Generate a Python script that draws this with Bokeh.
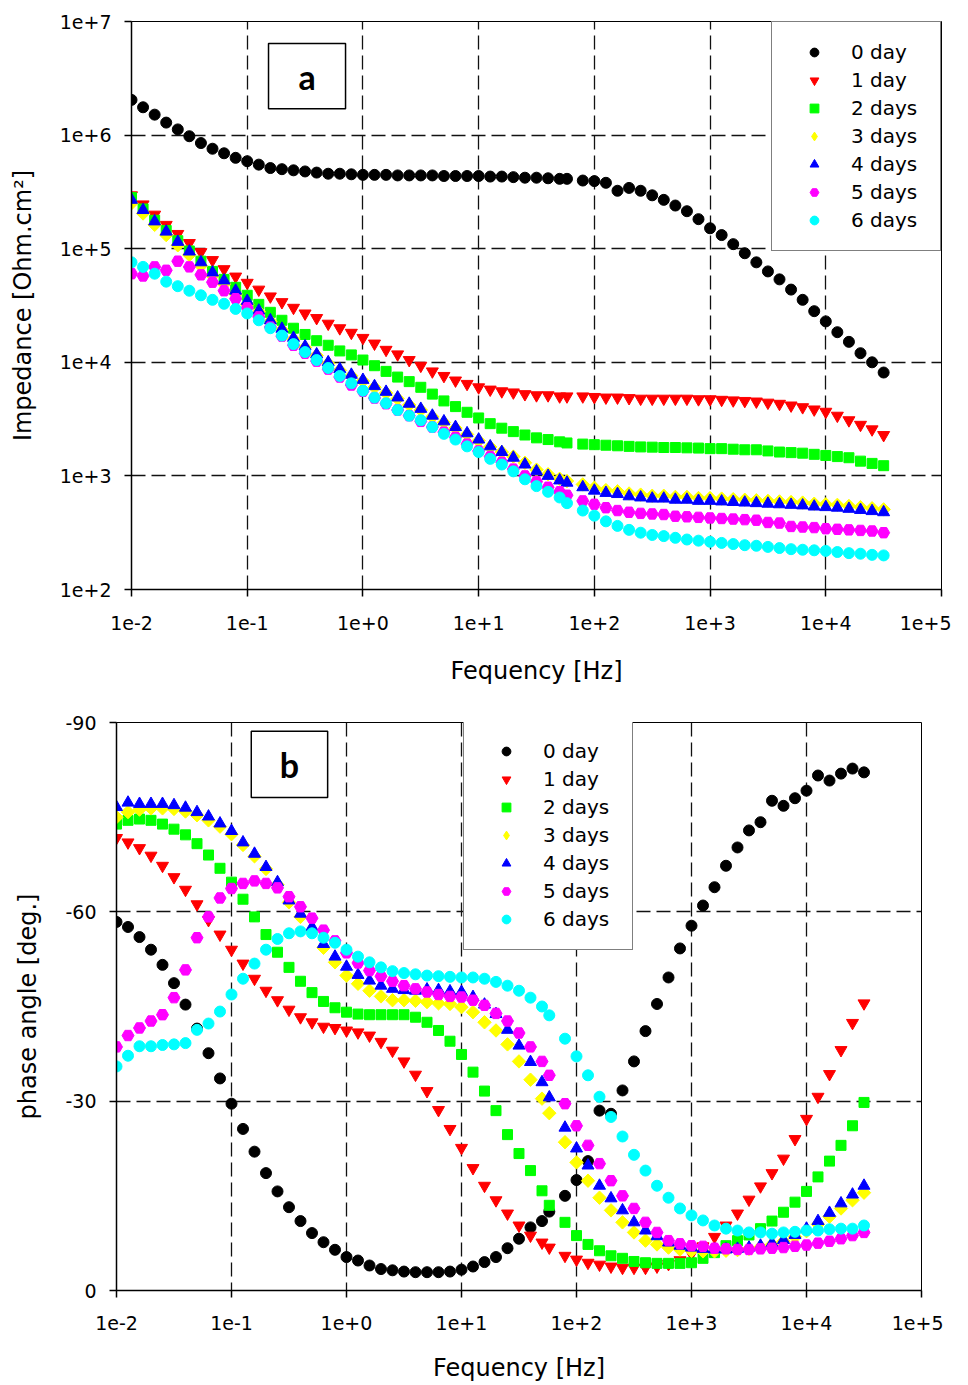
from bokeh.plotting import figure
from bokeh.layouts import column
from bokeh.models import (Range1d, FixedTicker, CustomJSTickFormatter, Legend,
                          LegendItem, BoxAnnotation, Label)
from bokeh.embed import file_html
from bokeh.resources import INLINE

# ---------------- data ----------------
FREQ = [0.01, 0.01259, 0.01585, 0.01995, 0.02512, 0.03162, 0.03981, 0.05012, 0.0631, 0.07943,
        0.1, 0.1259, 0.1585, 0.1995, 0.2512, 0.3162, 0.3981, 0.5012, 0.631, 0.7943,
        1.0, 1.259, 1.585, 1.995, 2.512, 3.162, 3.981, 5.012, 6.31, 7.943,
        10.0, 12.59, 15.85, 19.95, 25.12, 31.62, 39.81, 50.12, 58.0, 79.43,
        100.0, 125.9, 158.5, 199.5, 251.2, 316.2, 398.1, 501.2, 631.0, 794.3,
        1000.0, 1259.0, 1585.0, 1995.0, 2512.0, 3162.0, 3981.0, 5012.0, 6310.0, 7943.0,
        10000.0, 12589.0, 15849.0, 19953.0, 25119.0, 31623.0]

SERIES = ["0 day", "1 day", "2 days", "3 days", "4 days", "5 days", "6 days"]

# log10 of impedance modulus [Ohm.cm2]
LOGZ_0DAY = [6.31, 6.245, 6.18, 6.11, 6.05, 5.99, 5.93, 5.88, 5.84, 5.80,
             5.77, 5.74, 5.71, 5.70, 5.69, 5.68, 5.67, 5.66, 5.66, 5.655,
             5.65, 5.65, 5.65, 5.645, 5.645, 5.645, 5.645, 5.64, 5.64, 5.64,
             5.64, 5.635, 5.635, 5.63, 5.625, 5.625, 5.62, 5.615, 5.615, 5.60,
             5.595, 5.58, 5.51, 5.535, 5.51, 5.47, 5.43, 5.38, 5.33, 5.26,
             5.18, 5.12, 5.04, 4.96, 4.88, 4.80, 4.73, 4.64, 4.55, 4.45,
             4.36, 4.265, 4.18, 4.08, 4.00, 3.91]
LOGZ_1DAY = [5.47, 5.39, 5.30, 5.21, 5.13, 5.05, 4.97, 4.90, 4.82, 4.755,
             4.70, 4.64, 4.58, 4.53, 4.48, 4.43, 4.39, 4.34, 4.30, 4.26,
             4.215, 4.165, 4.11, 4.07, 4.02, 3.97, 3.92, 3.88, 3.84, 3.81,
             3.78, 3.76, 3.745, 3.735, 3.72, 3.71, 3.71, 3.70, 3.70, 3.70,
             3.695, 3.69, 3.69, 3.685, 3.68, 3.68, 3.68, 3.68, 3.68, 3.675,
             3.675, 3.67, 3.665, 3.66, 3.655, 3.645, 3.635, 3.62, 3.605, 3.585,
             3.565, 3.53, 3.49, 3.45, 3.41, 3.36]
LOGZ_2DAYS = [5.45, 5.35, 5.25, 5.16, 5.07, 4.98, 4.89, 4.80, 4.73, 4.66,
              4.59, 4.51, 4.44, 4.37, 4.30, 4.245, 4.19, 4.15, 4.10, 4.065,
              4.02, 3.97, 3.92, 3.87, 3.83, 3.78, 3.72, 3.66, 3.61, 3.56,
              3.51, 3.46, 3.42, 3.39, 3.36, 3.335, 3.32, 3.30, 3.29, 3.28,
              3.275, 3.27, 3.265, 3.26, 3.255, 3.253, 3.25, 3.25, 3.247, 3.245,
              3.24, 3.24, 3.235, 3.23, 3.23, 3.22, 3.21, 3.205, 3.20, 3.19,
              3.18, 3.17, 3.16, 3.13, 3.11, 3.09]
LOGZ_3DAYS = [5.40, 5.31, 5.21, 5.12, 5.03, 4.945, 4.85, 4.76, 4.69, 4.60,
              4.51, 4.445, 4.36, 4.285, 4.205, 4.13, 4.06, 3.99, 3.93, 3.88,
              3.835, 3.78, 3.73, 3.68, 3.625, 3.58, 3.52, 3.47, 3.42, 3.365,
              3.31, 3.255, 3.21, 3.17, 3.115, 3.055, 3.015, 2.975, 2.955, 2.925,
              2.895, 2.875, 2.865, 2.845, 2.835, 2.825, 2.825, 2.815, 2.815, 2.805,
              2.805, 2.80, 2.795, 2.79, 2.785, 2.78, 2.775, 2.77, 2.765, 2.755,
              2.75, 2.745, 2.735, 2.725, 2.715, 2.705]
LOGZ_4DAYS = [5.43, 5.34, 5.24, 5.15, 5.06, 4.975, 4.88, 4.79, 4.72, 4.63,
              4.54, 4.455, 4.37, 4.295, 4.215, 4.14, 4.07, 4.00, 3.94, 3.89,
              3.845, 3.79, 3.74, 3.69, 3.635, 3.59, 3.53, 3.48, 3.43, 3.375,
              3.32, 3.26, 3.21, 3.16, 3.10, 3.04, 3.00, 2.96, 2.94, 2.90,
              2.87, 2.85, 2.84, 2.82, 2.81, 2.80, 2.80, 2.79, 2.79, 2.78,
              2.78, 2.775, 2.77, 2.765, 2.76, 2.755, 2.75, 2.745, 2.74, 2.73,
              2.725, 2.72, 2.71, 2.70, 2.69, 2.68]
LOGZ_5DAYS = [4.78, 4.76, 4.84, 4.81, 4.89, 4.84, 4.77, 4.705, 4.63, 4.56,
              4.48, 4.40, 4.31, 4.23, 4.15, 4.08, 4.01, 3.94, 3.87, 3.80,
              3.745, 3.685, 3.635, 3.58, 3.53, 3.48, 3.43, 3.385, 3.34, 3.28,
              3.22, 3.17, 3.12, 3.06, 3.00, 2.95, 2.90, 2.86, 2.83, 2.78,
              2.75, 2.72, 2.695, 2.68, 2.67, 2.665, 2.66, 2.645, 2.64, 2.635,
              2.63, 2.625, 2.62, 2.615, 2.61, 2.59, 2.585, 2.555, 2.55, 2.545,
              2.535, 2.53, 2.525, 2.52, 2.515, 2.50]
LOGZ_6DAYS = [4.88, 4.84, 4.78, 4.71, 4.67, 4.63, 4.59, 4.55, 4.515, 4.47,
              4.43, 4.37, 4.30, 4.235, 4.16, 4.09, 4.02, 3.95, 3.88, 3.815,
              3.75, 3.69, 3.64, 3.58, 3.53, 3.49, 3.43, 3.37, 3.32, 3.26,
              3.21, 3.15, 3.10, 3.04, 2.97, 2.91, 2.86, 2.81, 2.76, 2.695,
              2.65, 2.60, 2.56, 2.525, 2.50, 2.48, 2.47, 2.455, 2.44, 2.43,
              2.42, 2.41, 2.40, 2.39, 2.385, 2.375, 2.365, 2.355, 2.35, 2.345,
              2.34, 2.33, 2.32, 2.315, 2.305, 2.30]

# phase angle [deg.]
PHASE_0DAY = [-58.4, -57.6, -56.0, -54.0, -51.6, -48.7, -45.3, -41.5, -37.6, -33.6,
              -29.6, -25.6, -22.0, -18.6, -15.7, -13.2, -11.0, -9.1, -7.65, -6.45,
              -5.3, -4.75, -3.96, -3.4, -3.2, -3.0, -2.9, -2.9, -2.9, -3.0,
              -3.3, -3.8, -4.5, -5.3, -6.7, -8.2, -10.0, -11.0, -12.5, -15.0,
              -17.5, -20.5, -28.5, -28.0, -31.7, -36.3, -41.1, -45.4, -49.6, -54.2,
              -57.8, -61.0, -63.9, -67.3, -70.2, -72.9, -74.2, -77.6, -76.8, -78.0,
              -79.2, -81.6, -80.8, -81.9, -82.7, -82.1]
PHASE_1DAY = [-71.7, -71.0, -70.1, -68.9, -67.3, -65.5, -63.5, -61.2, -58.7, -56.4,
              -54.0, -51.8, -49.4, -47.5, -46.0, -44.5, -43.3, -42.5, -41.8, -41.6,
              -41.2, -40.9, -40.4, -39.4, -38.0, -36.3, -34.2, -31.6, -28.6, -25.6,
              -22.6, -19.4, -16.6, -14.3, -12.2, -10.3, -8.7, -7.6, -6.8, -5.5,
              -4.9, -4.4, -4.1, -3.8, -3.6, -3.6, -3.6, -3.8, -4.2, -4.8,
              -5.8, -7.0, -8.5, -10.3, -12.2, -14.4, -16.5, -18.6, -20.9, -24.0,
              -27.2, -30.7, -34.3, -38.1, -42.4, -45.5]
PHASE_2DAYS = [-73.9, -74.5, -74.7, -74.5, -73.9, -73.1, -72.2, -70.8, -69.0, -66.9,
               -64.7, -62.0, -59.2, -56.4, -53.6, -51.2, -49.0, -47.2, -45.8, -44.8,
               -44.1, -43.8, -43.7, -43.7, -43.7, -43.7, -43.3, -42.5, -41.2, -39.5,
               -37.4, -34.6, -31.6, -28.5, -24.7, -21.7, -19.0, -15.8, -13.5, -10.8,
               -8.7, -7.3, -6.3, -5.5, -5.1, -4.6, -4.4, -4.3, -4.3, -4.3,
               -4.4, -5.1, -6.0, -7.1, -7.9, -8.8, -9.8, -11.0, -12.4, -14.0,
               -15.7, -18.0, -20.5, -23.0, -26.1, -29.8]
PHASE_3DAYS = [-75.0, -75.8, -76.2, -76.4, -76.4, -76.3, -75.9, -75.3, -74.5, -73.5,
               -72.3, -70.6, -68.8, -66.8, -64.3, -61.5, -59.2, -57.0, -54.3, -52.0,
               -49.9, -48.6, -47.5, -46.6, -46.0, -46.0, -45.9, -45.7, -45.5, -45.4,
               -44.9, -44.1, -42.5, -41.2, -39.0, -36.3, -33.4, -30.4, -28.1, -23.5,
               -20.3, -17.4, -14.7, -12.7, -10.8, -9.2, -7.9, -7.3, -6.8, -6.5,
               -6.3, -6.2, -6.2, -6.3, -6.4, -6.6, -6.9, -7.3, -7.8, -8.5,
               -9.4, -10.5, -11.7, -13.0, -14.3, -15.5]
PHASE_4DAYS = [-76.6, -77.3, -77.1, -77.1, -77.1, -76.9, -76.5, -75.8, -75.1, -74.0,
               -72.8, -71.0, -69.2, -67.1, -64.7, -61.8, -59.7, -57.6, -54.9, -52.9,
               -51.3, -50.0, -49.1, -48.3, -47.8, -47.6, -47.5, -47.7, -47.6, -47.4,
               -47.3, -46.5, -45.3, -43.8, -41.3, -38.8, -36.2, -33.0, -30.6, -25.8,
               -22.5, -19.8, -16.6, -14.6, -12.7, -10.8, -9.5, -8.6, -7.6, -7.1,
               -6.8, -6.6, -6.5, -6.5, -6.6, -6.8, -7.1, -7.5, -8.0, -8.8,
               -9.8, -11.0, -12.3, -13.8, -15.2, -16.6]
PHASE_5DAYS = [-38.6, -40.4, -41.6, -42.7, -43.7, -46.4, -50.8, -55.9, -59.2, -62.2,
               -63.7, -64.5, -64.9, -64.5, -63.8, -62.4, -60.8, -59.0, -57.1, -55.4,
               -53.5, -51.9, -50.7, -49.8, -49.0, -48.3, -47.8, -47.3, -46.9, -46.6,
               -46.5, -46.0, -45.2, -43.9, -42.7, -40.8, -38.6, -36.3, -34.1, -29.6,
               -26.1, -23.0, -20.1, -17.4, -15.0, -13.0, -10.8, -9.2, -7.9, -7.4,
               -7.1, -7.0, -6.7, -6.6, -6.5, -6.5, -6.6, -6.7, -6.8, -7.0,
               -7.2, -7.5, -7.8, -8.2, -8.7, -9.2]
PHASE_6DAYS = [-35.5, -37.2, -38.7, -38.7, -38.9, -39.0, -39.2, -41.3, -42.3, -44.2,
               -46.9, -49.4, -51.8, -54.0, -55.7, -56.6, -56.9, -56.6, -55.9, -55.1,
               -54.0, -52.9, -52.0, -51.2, -50.6, -50.3, -50.1, -49.9, -49.8, -49.7,
               -49.6, -49.6, -49.4, -48.9, -48.3, -47.5, -46.4, -45.0, -43.6, -39.9,
               -37.1, -34.1, -30.7, -27.5, -24.4, -21.5, -19.0, -16.6, -14.7, -13.0,
               -11.9, -11.1, -10.3, -9.8, -9.5, -9.2, -9.2, -9.0, -9.2, -9.3,
               -9.5, -9.5, -9.7, -9.8, -9.8, -10.3]

X_TICKS = [1e-2, 1e-1, 1e0, 1e1, 1e2, 1e3, 1e4, 1e5]
Z_TICKS = [1e2, 1e3, 1e4, 1e5, 1e6, 1e7]
PHASE_TICKS = [-90, -60, -30, 0]

LOGZ = [LOGZ_0DAY, LOGZ_1DAY, LOGZ_2DAYS, LOGZ_3DAYS, LOGZ_4DAYS, LOGZ_5DAYS, LOGZ_6DAYS]
PHASE = [PHASE_0DAY, PHASE_1DAY, PHASE_2DAYS, PHASE_3DAYS, PHASE_4DAYS, PHASE_5DAYS, PHASE_6DAYS]

# ---------------- styles ----------------
FONT = "DejaVu Sans"
MARKERS = ["circle", "inverted_triangle", "square", "square", "triangle", "hex", "circle"]
LEGEND_MARKERS = ["circle", "inverted_triangle", "square", "diamond", "triangle", "hex", "circle"]
ANGLES = [0, 0, 0, 0.785398, 0, 0, 0]
COLORS = ["#000000", "#ff0000", "#00ff00", "#ffff00", "#0000ff", "#ff00ff", "#00ffff"]
SIZES = [11, 12, 10, 9.5, 12, 12, 11]
NAN = float("nan")

exp_fmt = CustomJSTickFormatter(code="""
const e = Math.round(Math.log10(tick));
return "1e" + (e < 0 ? "-" : "+") + Math.abs(e);
""")
int_fmt = CustomJSTickFormatter(code="return tick.toFixed(0);")


def style_axis(ax, label, label_standoff, tick_standoff):
    ax.axis_label = label
    ax.axis_label_text_font = FONT
    ax.axis_label_text_font_size = "24px"
    ax.axis_label_text_font_style = "normal"
    ax.axis_label_text_color = "black"
    ax.axis_label_standoff = label_standoff
    ax.major_label_text_font = FONT
    ax.major_label_text_font_size = "19px"
    ax.major_label_text_color = "black"
    ax.major_label_standoff = tick_standoff
    ax.major_tick_out = 7
    ax.major_tick_in = 0
    ax.minor_tick_line_color = None
    ax.axis_line_color = "black"
    ax.axis_line_width = 1.5
    ax.major_tick_line_color = "black"
    ax.major_tick_line_width = 1.5


def style_grid(g):
    g.grid_line_color = "#111111"
    g.grid_line_dash = "14 6"
    g.grid_line_width = 1.3


def add_series(p, ys_list):
    legend_items = []
    for s, ys, mk, lmk, ang, c, sz in zip(SERIES, ys_list, MARKERS, LEGEND_MARKERS,
                                          ANGLES, COLORS, SIZES):
        r = p.scatter(FREQ, ys, marker=mk, angle=ang, size=sz, fill_color=c, line_color=c)
        if lmk != mk:
            # legend swatch only (legend swatches are never rotated); holds no visible point
            r = p.scatter([NAN], [NAN], marker=lmk, size=sz, fill_color=c, line_color=c)
        legend_items.append(LegendItem(label=s, renderers=[r]))
    return legend_items


def make_legend(items, location):
    return Legend(items=items, location=location, margin=0, padding=16, spacing=0,
                  glyph_width=52, glyph_height=22, label_height=28, label_width=73,
                  label_standoff=11, label_text_font=FONT, label_text_font_size="20px",
                  label_text_color="black", border_line_color="black", border_line_width=1,
                  background_fill_color="white", background_fill_alpha=1.0)


# ---------------- panel a ----------------
p1 = figure(x_axis_type="log", y_axis_type="log",
            x_range=Range1d(1e-2, 1e5), y_range=Range1d(1e2, 1e7),
            frame_width=810, frame_height=568,
            min_border_left=131, min_border_right=10, min_border_top=21, min_border_bottom=101,
            output_backend="svg", toolbar_location=None)
p1.outline_line_color = "black"
p1.outline_line_width = 1
p1.xaxis.ticker = FixedTicker(ticks=X_TICKS)
p1.yaxis.ticker = FixedTicker(ticks=Z_TICKS)
p1.xaxis.formatter = exp_fmt
p1.yaxis.formatter = exp_fmt
p1.xgrid.ticker = FixedTicker(ticks=X_TICKS)
p1.ygrid.ticker = FixedTicker(ticks=Z_TICKS)
style_axis(p1.xaxis[0], "Fequency [Hz]", 24, 19)
style_axis(p1.yaxis[0], "Impedance [Ohm.cm²]", 20, 13)
style_grid(p1.xgrid[0])
style_grid(p1.ygrid[0])

z_list = [[10 ** v for v in logz] for logz in LOGZ]
p1.add_layout(make_legend(add_series(p1, z_list), "top_right"))

p1.add_layout(BoxAnnotation(left=0.1528, right=0.7075, bottom=1.71e6, top=6.40e6,
                            fill_color="white", fill_alpha=1.0, line_color="black",
                            line_alpha=1.0, line_width=1.5))
p1.add_layout(Label(x=0.3288, y=3.31e6, text="a", text_align="center", text_baseline="middle",
                    text_font="Lato", text_font_style="bold", text_font_size="34px",
                    text_color="black"))

# ---------------- panel b ----------------
p2 = figure(x_axis_type="log",
            x_range=Range1d(1e-2, 1e5), y_range=Range1d(0, -90),
            frame_width=812, frame_height=568,
            min_border_left=131, min_border_right=15, min_border_top=32, min_border_bottom=95,
            output_backend="svg", toolbar_location=None)
p2.margin = (0, 0, 0, -15)   # panel b's frame starts 15px further left than panel a's
p2.outline_line_color = "black"
p2.outline_line_width = 1
p2.xaxis.ticker = FixedTicker(ticks=X_TICKS)
p2.yaxis.ticker = FixedTicker(ticks=PHASE_TICKS)
p2.xaxis.formatter = exp_fmt
p2.yaxis.formatter = int_fmt
p2.xgrid.ticker = FixedTicker(ticks=X_TICKS)
p2.ygrid.ticker = FixedTicker(ticks=PHASE_TICKS)
style_axis(p2.xaxis[0], "Fequency [Hz]", 21, 18)
style_axis(p2.yaxis[0], "phase angle [deg.]", 20, 13)
style_grid(p2.xgrid[0])
style_grid(p2.ygrid[0])

p2.add_layout(make_legend(add_series(p2, PHASE), (347, 340)))

p2.add_layout(BoxAnnotation(left=0.1486, right=0.6855, bottom=-78.1, top=-88.6,
                            fill_color="white", fill_alpha=1.0, line_color="black",
                            line_alpha=1.0, line_width=1.5))
p2.add_layout(Label(x=0.3192, y=-83.35, text="b", text_align="center", text_baseline="middle",
                    text_font="Lato", text_font_style="bold", text_font_size="34px",
                    text_color="black"))

layout = column(p1, p2, spacing=0)
open("out.html", "w").write(file_html(layout, INLINE))
